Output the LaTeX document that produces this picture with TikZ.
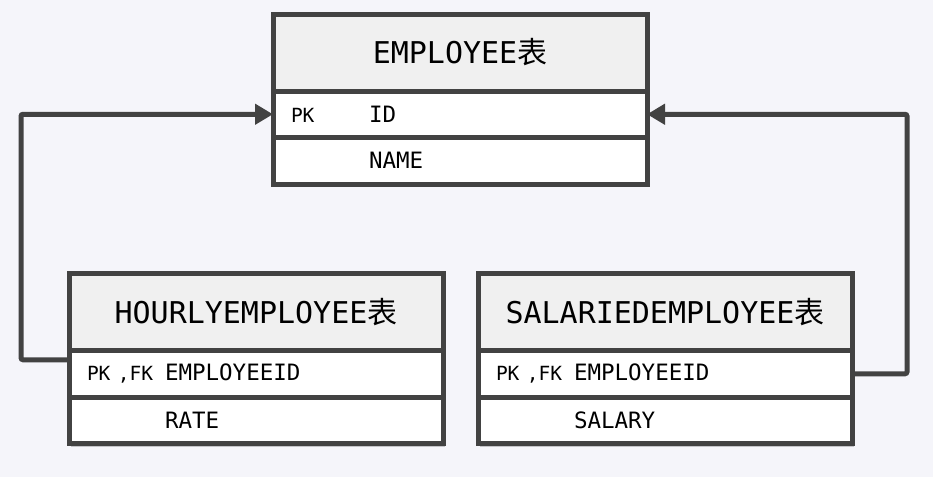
\documentclass[tikz,border=0pt]{standalone}
\usepackage{fontspec}
\usetikzlibrary{positioning,arrows.meta,shadows}
\newfontfamily\monofont{DejaVu Sans Mono}
\newfontfamily\cjk{Noto Sans CJK SC}
\definecolor{bgcol}{HTML}{F5F5FA}
\definecolor{framecol}{HTML}{424242}
\definecolor{headcol}{HTML}{F0F0F0}
\newcommand{\keycol}[1]{\makebox[78pt][l]{\fontsize{19.5}{22}\selectfont #1}}
\tikzset{
  tablehead/.style={draw=framecol,fill=headcol,line width=5pt,outer sep=0pt,
    minimum width=374pt,minimum height=77pt,
    font=\monofont\fontsize{30}{34}\selectfont,
    drop shadow={shadow xshift=2pt,shadow yshift=-3pt,opacity=0.2,fill=black}},
  tablerow/.style={draw=framecol,fill=white,line width=5pt,outer sep=0pt,
    minimum height=46.5pt,text width=338pt,inner xsep=18pt,align=left,
    font=\monofont\fontsize{22.5}{26}\selectfont,
    drop shadow={shadow xshift=2pt,shadow yshift=-3pt,opacity=0.2,fill=black}},
  link/.style={draw=framecol,line width=5pt,rounded corners=2pt,
    -{Triangle[length=18pt,width=20pt]}}
}

\begin{document}
\begin{tikzpicture}[x=1pt,y=-1pt]
    \fill[bgcol] (0,0) rectangle (933,477);
    \useasboundingbox (0,0) rectangle (933,477);
    % parent table
    \node[tablehead] (emp) at (460,52.5) {EMPLOYEE{\cjk 表}};
    \node[tablerow,below=0pt of emp] (emp-id) {\keycol{PK}ID};
    \node[tablerow,below=0pt of emp-id] (emp-name) {\keycol{}NAME};
    % child tables
    \node[tablehead] (hourly) at (256,312) {HOURLYEMPLOYEE{\cjk 表}};
    \node[tablerow,below=0pt of hourly] (hourly-id) {\keycol{PK ,FK}EMPLOYEEID};
    \node[tablerow,below=0pt of hourly-id] (hourly-rate) {\keycol{}RATE};
    \node[tablehead] (salaried) at (665,312) {SALARIEDEMPLOYEE{\cjk 表}};
    \node[tablerow,below=0pt of salaried] (salaried-id) {\keycol{PK ,FK}EMPLOYEEID};
    \node[tablerow,below=0pt of salaried-id] (salaried-salary) {\keycol{}SALARY};
    % foreign keys
    \draw[link] ([yshift=14pt]hourly-id.west) -- ++(-48,0) |- (emp-id.west);
    \draw[link] (salaried-id.east) -- ++(55,0) |- (emp-id.east);
\end{tikzpicture}
\end{document}
